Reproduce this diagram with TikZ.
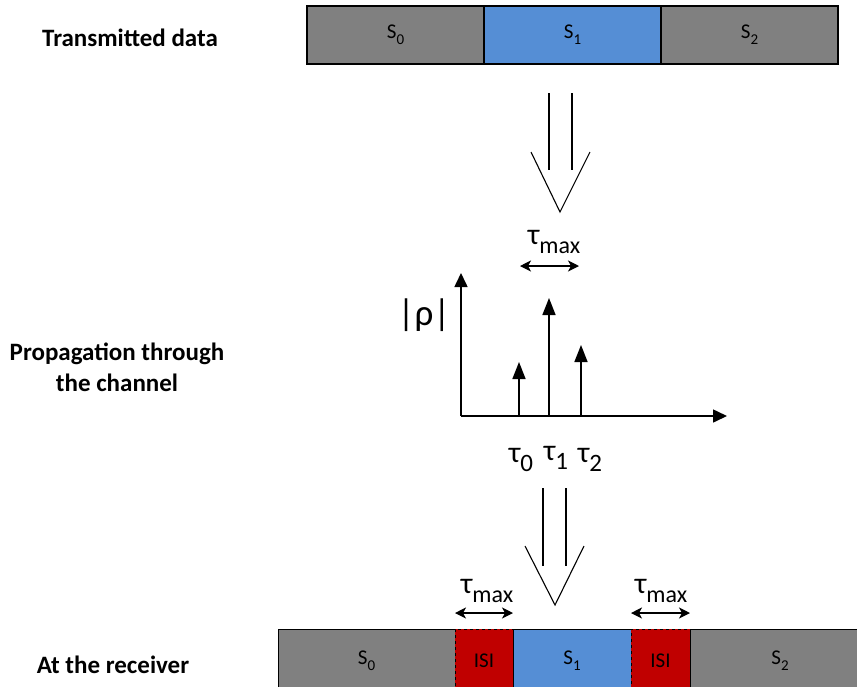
\documentclass[tikz,border=0pt]{standalone}
\usepackage{fontspec}
\setmainfont{Carlito}
\usetikzlibrary{arrows.meta}

\definecolor{symgray}{HTML}{808080}
\definecolor{symblue}{HTML}{558ED5}
\definecolor{isired}{HTML}{C00000}

\newcommand\lowidx[2]{\raisebox{-0.3em}{\fontsize{#1}{#1}\selectfont #2}}

\tikzset{
  cell/.style={draw=black, line width=1.6pt, minimum height=58pt, inner sep=0pt,
               font=\fontsize{21}{21}\selectfont},
  rxcell/.style={draw=black, line width=0.8pt, minimum height=64pt, inner sep=0pt,
               font=\fontsize{21}{21}\selectfont},
  isicell/.style={rxcell, fill=isired, dashed},
  rowlabel/.style={font=\bfseries\fontsize{25}{31}\selectfont, align=center, inner sep=0pt},
  hollow/.style={line width=1.1pt},
  stem/.style={line width=1.6pt, -{Triangle[width=13pt,length=17pt]}},
  axis/.style={line width=1.6pt, -{Triangle[width=13pt,length=14pt]}},
  span/.style={line width=1.3pt, {Stealth[width=11pt,length=11pt,inset=3pt]}-{Stealth[width=11pt,length=11pt,inset=3pt]}},
  taulabel/.style={font=\fontsize{30}{30}\selectfont, inner sep=0pt},
  maxlabel/.style={font=\fontsize{30}{30}\selectfont, inner sep=0pt}
}

\begin{document}
\begin{tikzpicture}[x=1pt, y=-1pt]
\useasboundingbox (0,0) rectangle (857,686);

% row captions
\node[rowlabel] (capTx) at (130,38) {Transmitted data};
\node[rowlabel] (capCh) at (117,367) {Propagation through\\the channel};
\node[rowlabel] (capRx) at (113,665) {At the receiver};

% transmitted symbols
\node[cell, fill=symgray, minimum width=177pt] (tx0) at (395.5,35) {S\lowidx{15}{0}};
\node[cell, fill=symblue, minimum width=177pt] (tx1) at (572.5,35) {S\lowidx{15}{1}};
\node[cell, fill=symgray, minimum width=177pt] (tx2) at (749.5,35) {S\lowidx{15}{2}};

% first hollow arrow
\coordinate (a1l0) at (549,93);  \coordinate (a1l1) at (549,170);
\coordinate (a1r0) at (572,93);  \coordinate (a1r1) at (572,170);
\coordinate (a1vl) at (531,152); \coordinate (a1tip) at (560,212); \coordinate (a1vr) at (590,152);
\draw[hollow] (a1l0) -- (a1l1);
\draw[hollow] (a1r0) -- (a1r1);
\draw[hollow] (a1vl) -- (a1tip) -- (a1vr);

% delay spread above the profile
\node[maxlabel] (tauTop) at (554,242) {τ\lowidx{24}{max}};
\coordinate (spA) at (520,266); \coordinate (spB) at (579,266);
\draw[span] (spA) -- (spB);

% power delay profile
\coordinate (org) at (461,416);
\coordinate (yTop) at (461,273);
\coordinate (xEnd) at (727,416);
\draw[axis] (org) -- (yTop);
\draw[axis] (org) -- (xEnd);
\node[font=\fontsize{37}{37}\selectfont, inner sep=0pt] (rho) at (424,315) {|ρ|};

\coordinate (p0) at (519,416); \coordinate (p0t) at (519,362);
\coordinate (p1) at (549,416); \coordinate (p1t) at (549,298);
\coordinate (p2) at (581,416); \coordinate (p2t) at (581,345);
\draw[stem] (p0) -- (p0t);
\draw[stem] (p1) -- (p1t);
\draw[stem] (p2) -- (p2t);

\node[taulabel] (t0) at (521,460) {τ\lowidx{25}{0}};
\node[taulabel] (t1) at (556,458) {τ\lowidx{25}{1}};
\node[taulabel] (t2) at (590,460) {τ\lowidx{25}{2}};

% second hollow arrow
\coordinate (a2l0) at (543,488);  \coordinate (a2l1) at (543,566);
\coordinate (a2r0) at (566,488);  \coordinate (a2r1) at (566,566);
\coordinate (a2vl) at (525,546);  \coordinate (a2tip) at (555,605); \coordinate (a2vr) at (584,546);
\draw[hollow] (a2l0) -- (a2l1);
\draw[hollow] (a2r0) -- (a2r1);
\draw[hollow] (a2vl) -- (a2tip) -- (a2vr);

% received symbols
\node[rxcell, fill=symgray, minimum width=177pt] (rx0) at (366.5,661) {S\lowidx{15}{0}};
\node[isicell, minimum width=58pt] (isiA) at (484,661) {ISI};
\node[rxcell, fill=symblue, minimum width=118pt] (rx1) at (572,661) {S\lowidx{15}{1}};
\node[isicell, minimum width=59pt] (isiB) at (660.5,661) {ISI};
\node[rxcell, fill=symgray, minimum width=180pt] (rx2) at (780,661) {S\lowidx{15}{2}};

% spreads over the ISI zones
\node[maxlabel] (tauL) at (487,591) {τ\lowidx{24}{max}};
\node[maxlabel] (tauR) at (661,591) {τ\lowidx{24}{max}};
\coordinate (lA) at (455,613); \coordinate (lB) at (513,613);
\coordinate (rA) at (631,613); \coordinate (rB) at (690,613);
\draw[span] (lA) -- (lB);
\draw[span] (rA) -- (rB);
\end{tikzpicture}
\end{document}
